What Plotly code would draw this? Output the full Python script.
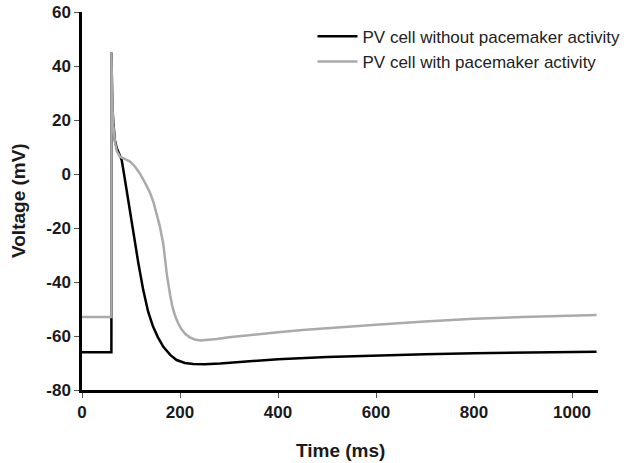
import plotly.graph_objects as go

# Time (ms) and voltage (mV) samples
t_without = [0, 60, 60, 61, 62, 64, 67, 71, 76, 81, 86, 91, 96, 101, 108, 115, 125, 135, 145, 155,
             166, 180, 193, 210, 227, 250, 282, 330, 400, 500, 600, 700, 800, 900, 1000, 1050]
v_without = [-66, -66, 45, 33, 25, 19, 12.6, 9.5, 7.3, 5.2, -0.3, -5.9, -11, -17, -26, -33, -43, -51, -56.5, -60.5,
             -64, -67, -68.9, -70, -70.4, -70.5, -70.2, -69.5, -68.6, -67.8, -67.2, -66.8, -66.4, -66.1, -65.9, -65.8]

t_with = [0, 60, 60, 61, 62, 64, 67, 71, 77.5, 88, 98, 108, 118, 128, 139, 146, 152, 159, 166, 173,
          180, 185, 190, 196, 203, 211, 220, 230, 241, 255, 275, 300, 350, 400, 450, 500, 600, 700, 800,
          900, 1000, 1050]
v_with = [-53, -53, 45, 33, 25, 18, 12, 8.5, 6.4, 5.5, 4.6, 2.8, 0.2, -3, -7, -10.5, -14.5, -19.5, -26, -37,
          -45, -49.5, -52.5, -55.2, -57.5, -59.3, -60.5, -61.3, -61.7, -61.5, -61.1, -60.5, -59.5, -58.6, -57.8,
          -57.1, -55.8, -54.6, -53.6, -53, -52.5, -52.2]

names = ["PV cell without pacemaker activity", "PV cell with pacemaker activity"]
x_ticks = [0, 200, 400, 600, 800, 1000]
y_ticks = [-80, -60, -40, -20, 0, 20, 40, 60]
y_tick_labels = ["-80", "-60", "-40", "-20", "0", "20", "40", "60"]
x_title = "Time (ms)"
y_title = "Voltage (mV)"

font = "Liberation Sans, Arial, sans-serif"
txt = "#1a1a1a"

fig = go.Figure()
fig.add_trace(go.Scatter(x=t_without, y=v_without, mode="lines", name=names[0],
                         line=dict(color="#000000", width=2.5)))
fig.add_trace(go.Scatter(x=t_with, y=v_with, mode="lines", name=names[1],
                         line=dict(color="#aaaaaa", width=2.5)))

axis_common = dict(showgrid=False, zeroline=False, automargin=False,
                   showline=True, linecolor="black", linewidth=2.5,
                   ticks="outside", ticklen=5, tickwidth=1, tickcolor="#555555",
                   tickfont=dict(family=font, size=17, weight="bold", color=txt))

fig.update_layout(
    width=631, height=463,
    margin=dict(l=82, r=33, t=12, b=73, autoexpand=False),
    paper_bgcolor="white", plot_bgcolor="white",
    font=dict(family=font, color=txt),
    showlegend=True,
    legend=dict(x=0.4467, y=0.982, xanchor="left", yanchor="top",
                font=dict(family=font, size=17, color="#222222"),
                bgcolor="rgba(0,0,0,0)", itemwidth=40),
    xaxis=dict(range=[0, 1053], tickvals=x_ticks, **axis_common),
    yaxis=dict(range=[-80, 60], tickvals=y_ticks, ticktext=y_tick_labels, **axis_common),
    annotations=[
        dict(text=x_title, xref="paper", yref="paper", x=0.5, y=-0.161,
             xanchor="center", yanchor="middle", showarrow=False,
             font=dict(family=font, size=19, weight="bold", color=txt)),
        dict(text=y_title, xref="paper", yref="paper", x=-0.124, y=0.5, textangle=-90,
             xanchor="center", yanchor="middle", showarrow=False,
             font=dict(family=font, size=19, weight="bold", color=txt)),
    ],
)

fig.write_html("out.html", config={"displayModeBar": False},
               post_script="document.body.style.margin='0px';")
